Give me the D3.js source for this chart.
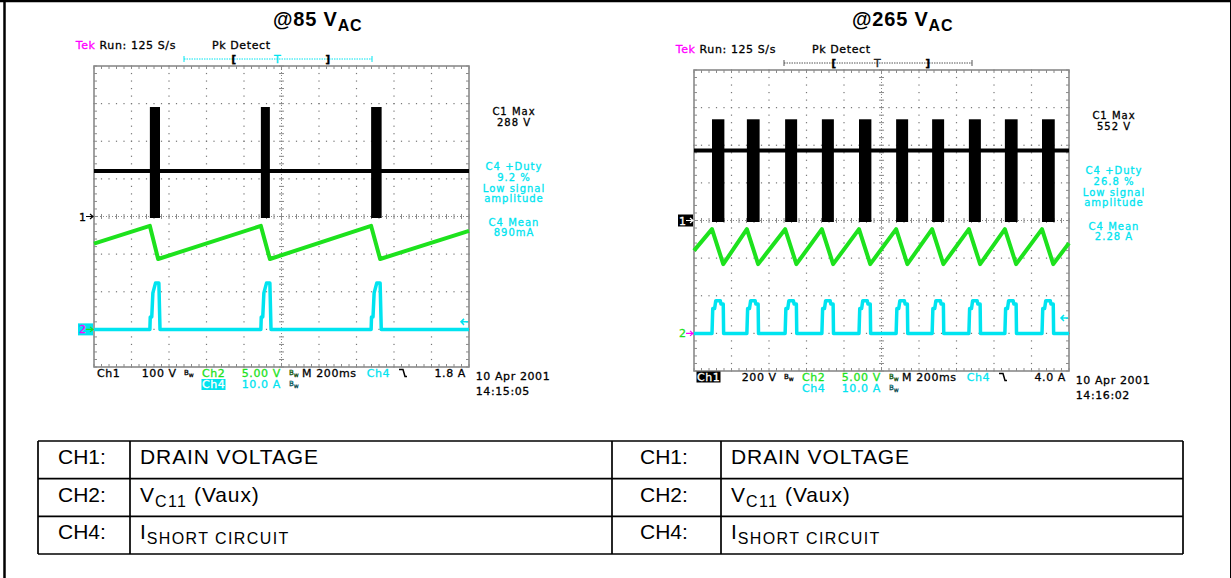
<!DOCTYPE html>
<html>
<head>
<meta charset="utf-8">
<script src="https://cdn.jsdelivr.net/npm/d3@7"></script>
<style>
body { margin: 0; background: #fff; }
svg { display: block; }
.scope text { font-family: "DejaVu Sans", sans-serif; font-size: 11px; letter-spacing: 0.6px; }
.scope text.meas { font-size: 10px; letter-spacing: 1px; }
.tbl text { font-family: "Liberation Sans", Arial, sans-serif; font-size: 21px; }
.tbl text.desc { letter-spacing: 0.9px; }
.tbl tspan.sub { font-size: 16px; letter-spacing: 1.4px; }
</style>
</head>
<body>
<svg id="fig" width="1231" height="578"></svg>
<script>
let titleVolts = ["@85 V", "@265 V"]
let runRate = ["Run: 125 S/s", "Run: 125 S/s"]
let ch1Scale = ["100 V", "200 V"]
let ch2Scale = ["5.00 V", "5.00 V"]
let ch4Scale = ["10.0 A", "10.0 A"]
let timeBase = ["M 200ms", "M 200ms"]
let trigLevel = ["1.8 A", "4.0 A"]
let activeCh = ["Ch4", "Ch1"]
let dates = ["10 Apr 2001", "10 Apr 2001"]
let times = ["14:15:05", "14:16:02"]
let c1Max = ["288 V", "552 V"]
let c4Duty = ["9.2 %", "26.8 %"]
let c4Mean = ["890mA", "2.28 A"]

// @85 VAC
let burstOn85 = [1.49, 4.45, 7.39]
let burstOff85 = [1.76, 4.69, 7.67]
let ch1Level85 = 1.21
let ch1Peak85 = 2.91
let ch2Trace85 = [[0, -0.72], [1.49, -0.25], [1.71, -1.13], [4.45, -0.25], [4.69, -1.13],
                  [7.39, -0.25], [7.63, -1.13], [10, -0.38]]
let ch4Base85 = -3.0
let ch4Pulse85 = [[0, 0], [0.01, 0.33], [0.05, 0.33], [0.08, 0.97], [0.15, 1.23], [0.24, 1.23], [0.27, 0]]
let ch4Trig85 = -2.8

// @265 VAC
let burstOn265 = [0.48, 1.41, 2.43, 3.41, 4.40, 5.39, 6.35, 7.33, 8.29, 9.28]
let burstOff265 = [0.81, 1.75, 2.75, 3.73, 4.73, 5.71, 6.67, 7.65, 8.63, 9.62]
let ch1Level265 = 1.86
let ch1Peak265 = 2.69
let ch2Trace265 = [[0, -0.80], [0.48, -0.23], [0.78, -1.16], [1.41, -0.23], [1.71, -1.16],
                   [2.43, -0.23], [2.73, -1.16], [3.41, -0.23], [3.71, -1.16], [4.40, -0.23],
                   [4.70, -1.16], [5.39, -0.23], [5.69, -1.16], [6.35, -0.23], [6.65, -1.16],
                   [7.33, -0.23], [7.63, -1.16], [8.29, -0.23], [8.59, -1.16], [9.28, -0.23],
                   [9.58, -1.16], [10, -0.60]]
let ch4Base265 = -3.0
let ch4Pulse265 = [[0, 0], [0.02, 0.66], [0.07, 0.66], [0.1, 0.87], [0.22, 0.87], [0.24, 0.78], [0.3, 0.78], [0.31, 0]]
let ch4Trig265 = -2.59

// legend table
let tblChannel = ["CH1:", "CH2:", "CH4:"]
let tblMain = ["DRAIN VOLTAGE", "V", "I"]
let tblSub = ["", "C11", "SHORT CIRCUIT"]
let tblTail = ["", " (Vaux)", ""]

const GREEN = "#1de21d"
const CYAN = "#00e4f0"
const MAGENTA = "#ff00ff"
const GRID = "#8a8a8a"

let svg = d3.select("#fig")

// page frame
svg.append("line").attr("x1", 0).attr("x2", 1231).attr("y1", 1).attr("y2", 1).attr("stroke", "#000").attr("stroke-width", 2.5)
svg.append("line").attr("x1", 4.5).attr("x2", 4.5).attr("y1", 0).attr("y2", 578).attr("stroke", "#000").attr("stroke-width", 2.5)
svg.append("line").attr("x1", 1230.5).attr("x2", 1230.5).attr("y1", 0).attr("y2", 578).attr("stroke", "#000").attr("stroke-width", 1)

let panels = [
    {gx: 94, gy: 66, titleX: 273, on: burstOn85, off: burstOff85, level: ch1Level85, peak: ch1Peak85,
     ch2: ch2Trace85, base: ch4Base85, pulse: ch4Pulse85, trig: ch4Trig85, trigBar: CYAN},
    {gx: 694, gy: 70, titleX: 852, on: burstOn265, off: burstOff265, level: ch1Level265, peak: ch1Peak265,
     ch2: ch2Trace265, base: ch4Base265, pulse: ch4Pulse265, trig: ch4Trig265, trigBar: "#555"}
]

panels.forEach((p, i) => drawScope(p, i))
drawTable()

// the scope font is a heavier bitmap face: thicken glyphs a little
d3.selectAll(".scope text, .scope tspan").each(function(){
    let f = d3.select(this).attr("fill") || "#000"
    d3.select(this).attr("stroke", f).attr("stroke-width", 0.3)
})

function drawScope(p, i){
    let g = svg.append("g").attr("class", "scope")
    let W = 375, H = 301
    let x = d3.scaleLinear().domain([0, 10]).range([p.gx, p.gx + W])
    let y = d3.scaleLinear().domain([-4, 4]).range([p.gy + H, p.gy])

    // title
    let t = svg.append("text")
        .attr("x", p.titleX).attr("y", 25.5)
        .style("font-family", "Liberation Sans, Arial, sans-serif")
        .style("font-weight", "bold").style("font-size", "20px").style("letter-spacing", "0.8px")
    t.append("tspan").text(titleVolts[i])
    t.append("tspan").attr("dy", 5).style("font-size", "16px").text("AC")

    // header
    let hy = p.gy - 17.5
    let h = g.append("text").attr("x", p.gx - 18.3).attr("y", hy)
    h.append("tspan").attr("fill", MAGENTA).text("Tek")
    h.append("tspan").attr("fill", "#000").text(" " + runRate[i])
    g.append("text").attr("x", p.gx + 118).attr("y", hy).text("Pk Detect")

    // trigger position bar
    let by = p.gy - 7
    g.append("line").attr("x1", p.gx + 90).attr("x2", p.gx + 278).attr("y1", by).attr("y2", by)
        .attr("stroke", p.trigBar).attr("stroke-width", 1).attr("stroke-dasharray", "1.5 1")
    ;[p.gx + 90, p.gx + 278].forEach(bx => {
        g.append("line").attr("x1", bx).attr("x2", bx).attr("y1", by - 3).attr("y2", by + 3)
            .attr("stroke", p.trigBar).attr("stroke-width", 1)
    })
    g.append("text").attr("x", p.gx + 140).attr("y", by + 4).attr("text-anchor", "middle")
        .style("font-weight", "bold").text("[")
    g.append("text").attr("x", p.gx + 234).attr("y", by + 4).attr("text-anchor", "middle")
        .style("font-weight", "bold").text("]")
    g.append("text").attr("x", p.gx + 183.7).attr("y", by + 4).attr("text-anchor", "middle")
        .attr("fill", i == 0 ? CYAN : "#222").text("T")

    drawGrid(g, x, y)

    // CH1 drain voltage
    g.append("line").attr("x1", x(0)).attr("x2", x(10)).attr("y1", y(p.level)).attr("y2", y(p.level))
        .attr("stroke", "#000").attr("stroke-width", 4)
    g.selectAll(".burst").data(d3.zip(p.on, p.off)).enter()
        .append("rect").attr("class", "burst")
        .attr("x", d => x(d[0])).attr("width", d => x(d[1]) - x(d[0]))
        .attr("y", y(p.peak)).attr("height", y(0) - y(p.peak) + 1.5)
        .attr("fill", "#000")

    // CH2 aux voltage
    let line = d3.line().x(d => x(d[0])).y(d => y(d[1]))
    g.append("path").attr("d", line(p.ch2)).attr("fill", "none")
        .attr("stroke", GREEN).attr("stroke-width", 4).attr("stroke-linejoin", "round")

    // CH4 current: baseline with a pulse at each switching burst
    let pts = [[0, p.base]]
    for (let s of p.on){
        for (let q of p.pulse) pts.push([s + q[0], p.base + q[1]])
    }
    pts.push([10, p.base])
    g.append("path").attr("d", line(pts)).attr("fill", "none")
        .attr("stroke", CYAN).attr("stroke-width", 3.5).attr("stroke-linejoin", "round")

    // trigger level arrow (right edge)
    let ty = y(p.trig)
    g.append("path").attr("d", `M${x(10) - 1},${ty} H${x(10) - 8} M${x(10) - 5},${ty - 3} L${x(10) - 8},${ty} L${x(10) - 5},${ty + 3}`)
        .attr("stroke", CYAN).attr("stroke-width", 1.5).attr("fill", "none")

    // channel ground markers
    let y1 = y(0), y2 = y(p.base)
    if (i == 1){
        g.append("rect").attr("x", p.gx - 16).attr("y", y1 - 6).attr("width", 15).attr("height", 12).attr("fill", "#000")
    }
    g.append("text").attr("x", p.gx - 15).attr("y", y1 + 4).attr("fill", i == 1 ? "#fff" : "#000").text("1")
    arrow(g, p.gx - 8, y1, i == 1 ? "#fff" : "#000")
    if (i == 0){
        g.append("rect").attr("x", p.gx - 16).attr("y", y2 - 6).attr("width", 15).attr("height", 12).attr("fill", CYAN)
    }
    g.append("text").attr("x", p.gx - 15).attr("y", y2 + 4).attr("fill", i == 0 ? MAGENTA : GREEN).text("2")
    arrow(g, p.gx - 8, y2, i == 0 ? GREEN : MAGENTA)

    // channel settings below screen
    let r1 = p.gy + 310.5, r2 = p.gy + 322
    if (activeCh[i] == "Ch1"){
        g.append("rect").attr("x", p.gx + 2.5).attr("y", r1 - 9).attr("width", 24).attr("height", 11).attr("fill", "#000")
    }
    g.append("text").attr("x", p.gx + 3).attr("y", r1).attr("fill", activeCh[i] == "Ch1" ? "#fff" : "#000").text("Ch1")
    g.append("text").attr("x", p.gx + 47.7).attr("y", r1).text(ch1Scale[i])
    bw(g, p.gx + 90, r1, "#000")
    g.append("text").attr("x", p.gx + 108).attr("y", r1).attr("fill", GREEN).text("Ch2")
    g.append("text").attr("x", p.gx + 147.7).attr("y", r1).attr("fill", GREEN).text(ch2Scale[i])
    bw(g, p.gx + 195, r1, GREEN)
    g.append("text").attr("x", p.gx + 208).attr("y", r1).text(timeBase[i])
    g.append("text").attr("x", p.gx + 272.7).attr("y", r1).attr("fill", CYAN).text("Ch4")
    g.append("path").attr("d", `M${p.gx + 305},${r1 - 7} H${p.gx + 309} L${p.gx + 311},${r1} H${p.gx + 313}`)
        .attr("stroke", "#000").attr("stroke-width", 1.5).attr("fill", "none")
    g.append("text").attr("x", p.gx + 372).attr("y", r1).attr("text-anchor", "end").text(trigLevel[i])

    if (activeCh[i] == "Ch4"){
        g.append("rect").attr("x", p.gx + 107.5).attr("y", r2 - 9).attr("width", 24).attr("height", 11).attr("fill", CYAN)
    }
    g.append("text").attr("x", p.gx + 108).attr("y", r2).attr("fill", activeCh[i] == "Ch4" ? "#fff" : CYAN).text("Ch4")
    g.append("text").attr("x", p.gx + 147.7).attr("y", r2).attr("fill", CYAN).text(ch4Scale[i])
    bw(g, p.gx + 195, r2, CYAN)

    g.append("text").attr("x", p.gx + 381.7).attr("y", p.gy + 313.5).text(dates[i])
    g.append("text").attr("x", p.gx + 381.7).attr("y", p.gy + 329).text(times[i])

    // measurement readouts
    let mx = p.gx + 420
    let meas = [["C1 Max", 49, "#000"], [c1Max[i], 60, "#000"],
                ["C4 +Duty", 104, CYAN], [c4Duty[i], 115, CYAN], ["Low signal", 125.5, CYAN], ["amplitude", 136, CYAN],
                ["C4 Mean", 159.5, CYAN], [c4Mean[i], 170, CYAN]]
    g.selectAll(".meas").data(meas).enter().append("text").attr("class", "meas")
        .attr("x", mx).attr("y", d => p.gy + d[1]).attr("text-anchor", "middle")
        .attr("fill", d => d[2]).text(d => d[0])
}

function arrow(g, ax, ay, color){
    g.append("path").attr("d", `M${ax},${ay} H${ax + 7} M${ax + 4},${ay - 2.5} L${ax + 7},${ay} L${ax + 4},${ay + 2.5}`)
        .attr("stroke", color).attr("stroke-width", 1.2).attr("fill", "none")
}

function bw(g, bx, by, color){
    let t = g.append("text").attr("x", bx).attr("y", by - 2).attr("fill", color).style("font-size", "7px").style("letter-spacing", "0")
    t.append("tspan").text("B")
    t.append("tspan").attr("dy", 2).style("font-size", "6px").text("w")
}

function drawGrid(g, x, y){
    let minorX = d3.range(0, 10.001, 0.2)
    let minorY = d3.range(-4, 4.001, 0.2)
    let dots = []
    for (let i of [1, 2, 3, 4, 6, 7, 8, 9]) for (let v of minorY) dots.push([i, v])
    for (let j of [-3, -2, -1, 1, 2, 3]) for (let u of minorX) dots.push([u, j])
    g.selectAll(".dot").data(dots).enter().append("rect").attr("class", "dot")
        .attr("x", d => x(d[0]) - 0.6).attr("y", d => y(d[1]) - 0.6)
        .attr("width", 1.2).attr("height", 1.2).attr("fill", "#777")

    // centre cross with minor ticks
    g.append("line").attr("x1", x(5)).attr("x2", x(5)).attr("y1", y(-4)).attr("y2", y(4))
        .attr("stroke", GRID).attr("stroke-width", 1).attr("stroke-dasharray", "1 2")
    g.append("line").attr("x1", x(0)).attr("x2", x(10)).attr("y1", y(0)).attr("y2", y(0))
        .attr("stroke", GRID).attr("stroke-width", 1).attr("stroke-dasharray", "1 2")
    g.selectAll(".tx").data(minorX).enter().append("line").attr("class", "tx")
        .attr("x1", d => x(d)).attr("x2", d => x(d)).attr("y1", y(0) - 2.5).attr("y2", y(0) + 2.5)
        .attr("stroke", GRID).attr("stroke-width", 1)
    g.selectAll(".ty").data(minorY).enter().append("line").attr("class", "ty")
        .attr("y1", d => y(d)).attr("y2", d => y(d)).attr("x1", x(5) - 2.5).attr("x2", x(5) + 2.5)
        .attr("stroke", GRID).attr("stroke-width", 1)

    // border with inward ticks
    g.selectAll(".bt").data(minorX).enter().append("path").attr("class", "bt")
        .attr("d", d => `M${x(d)},${y(4)} v3 M${x(d)},${y(-4)} v-3`)
        .attr("stroke", GRID).attr("stroke-width", 1)
    g.selectAll(".bl").data(minorY).enter().append("path").attr("class", "bl")
        .attr("d", d => `M${x(0)},${y(d)} h3 M${x(10)},${y(d)} h-3`)
        .attr("stroke", GRID).attr("stroke-width", 1)
    g.append("rect").attr("x", x(0)).attr("y", y(4)).attr("width", x(10) - x(0)).attr("height", y(-4) - y(4))
        .attr("fill", "none").attr("stroke", GRID).attr("stroke-width", 1.6)
}

function drawTable(){
    let g = svg.append("g").attr("class", "tbl")
    let rowY = d3.scaleLinear().domain([0, 3]).range([441, 554])
    let cols = [38, 130, 612, 721, 1183]
    let stroke = (x1, y1, x2, y2) => g.append("line").attr("x1", x1).attr("y1", y1).attr("x2", x2).attr("y2", y2)
        .attr("stroke", "#000").attr("stroke-width", 1.7)
    for (let r = 0; r <= 3; r++) stroke(cols[0], rowY(r), cols[4], rowY(r))
    for (let c of cols) stroke(c, rowY(0), c, rowY(3))

    for (let half of [0, 1]){
        let lx = half == 0 ? 58 : 640
        let dx = cols[half * 2 + 1] + 10
        tblChannel.forEach((ch, r) => {
            let by = rowY(r) + 23
            g.append("text").attr("x", lx).attr("y", by).text(ch)
            let t = g.append("text").attr("class", "desc").attr("x", dx).attr("y", by)
            t.append("tspan").text(tblMain[r])
            if (tblSub[r]){
                t.append("tspan").attr("class", "sub").attr("dy", 5).text(tblSub[r])
                if (tblTail[r]) t.append("tspan").attr("dy", -5).text(tblTail[r])
            }
        })
    }
}
</script>
</body>
</html>
